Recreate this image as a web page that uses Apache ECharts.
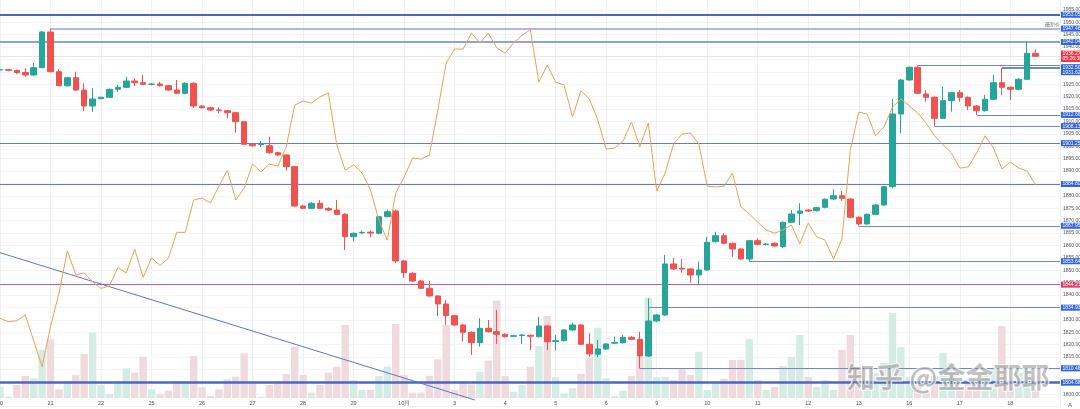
<!DOCTYPE html>
<html><head><meta charset="utf-8">
<script src="https://cdn.jsdelivr.net/npm/echarts/dist/echarts.min.js"></script>
<style>html,body{margin:0;padding:0;background:#fff}#c{width:1080px;height:409px}</style>
</head><body><div id="c"></div>
<script>
// ---- data ----
const days = ['20','21','22','25','26','27','28','29','10月','3','4','5','6','9','10','11','12','13','16','17','18'];
const barsPerDay = 6;
// [open, close, low, high]
const ohlc = [
[1930.77,1930.90,1930.20,1931.50],[1930.90,1930.60,1930.20,1931.20],[1930.56,1929.76,1929.15,1930.97],[1929.76,1928.75,1928.07,1931.45],[1928.75,1931.69,1928.35,1933.60],
[1931.69,1946.09,1931.57,1946.50],[1946.09,1930.08,1929.76,1947.465],[1930.08,1924.43,1924.30,1931.05],[1924.43,1927.66,1924.00,1928.00],[1927.66,1922.70,1922.30,1930.08],
[1922.70,1916.25,1914.20,1925.40],[1916.25,1919.07,1913.95,1923.40],[1919.20,1919.76,1919.00,1920.00],[1919.76,1922.98,1919.50,1923.30],[1922.98,1923.79,1922.00,1924.72],
[1923.79,1926.33,1923.50,1928.07],[1926.33,1925.65,1924.30,1927.42],[1925.65,1925.00,1924.72,1928.75],[1925.00,1925.10,1924.60,1925.50],[1925.10,1924.43,1924.03,1926.05],
[1924.43,1922.70,1922.40,1924.80],[1922.70,1921.37,1921.00,1926.73],[1921.37,1925.40,1921.00,1925.80],[1925.40,1916.25,1915.32,1925.80],[1916.25,1915.56,1915.20,1916.60],
[1915.56,1914.64,1914.20,1915.90],[1914.64,1914.40,1913.30,1915.73],[1914.36,1913.55,1911.30,1914.70],[1913.55,1909.92,1905.49,1913.90],[1909.92,1900.81,1900.50,1910.30],
[1900.81,1900.24,1899.90,1901.20],[1900.70,1900.90,1899.70,1902.14],[1900.24,1897.42,1897.00,1903.87],[1897.42,1896.49,1896.10,1897.80],[1896.49,1891.78,1890.16,1896.90],
[1891.78,1875.93,1875.53,1892.20],[1875.93,1875.00,1874.60,1876.40],[1875.00,1877.02,1874.70,1877.50],[1877.02,1875.00,1874.70,1878.35],[1875.00,1874.30,1873.90,1875.40],
[1874.30,1872.58,1872.20,1878.35],[1872.58,1863.55,1858.19,1873.00],[1863.55,1864.92,1861.80,1865.30],[1865.10,1865.30,1864.60,1866.00],[1865.40,1865.00,1863.30,1866.00],
[1864.92,1871.62,1864.50,1872.00],[1871.62,1873.63,1871.30,1874.40],[1873.92,1853.75,1852.83,1874.50],[1853.75,1849.04,1846.90,1854.20],[1848.80,1845.69,1845.30,1849.20],
[1845.69,1842.75,1842.40,1846.10],[1842.75,1839.64,1839.30,1845.80],[1839.64,1836.42,1831.58,1840.00],[1836.42,1831.70,1827.95,1838.00],[1831.70,1827.95,1827.60,1832.10],
[1827.95,1825.00,1821.22,1828.30],[1825.00,1820.81,1815.85,1825.40],[1820.81,1826.62,1819.20,1830.65],[1826.62,1825.25,1824.90,1829.97],[1825.25,1824.20,1820.30,1834.00],
[1824.20,1823.24,1822.90,1824.60],[1823.40,1823.60,1823.00,1824.00],[1823.70,1823.90,1820.30,1824.30],[1823.80,1823.40,1817.87,1824.00],[1823.24,1827.55,1822.90,1831.17],
[1827.55,1821.22,1817.87,1827.90],[1821.30,1821.60,1817.58,1823.90],[1821.62,1825.93,1821.20,1826.30],[1825.93,1827.95,1825.60,1828.87],[1827.95,1820.17,1819.80,1828.30],
[1820.17,1816.26,1815.17,1824.60],[1816.14,1818.27,1814.92,1821.90],[1818.27,1820.29,1817.90,1820.70],[1820.60,1820.90,1820.40,1823.24],[1820.81,1822.99,1820.40,1823.90],
[1822.99,1822.18,1821.80,1823.40],[1822.18,1815.45,1810.465,1825.25],[1815.45,1829.56,1815.00,1838.72],[1829.56,1831.98,1829.20,1832.40],[1831.98,1852.55,1831.60,1856.17],
[1852.55,1850.53,1850.10,1854.97],[1850.80,1850.50,1849.04,1854.44],[1850.53,1848.11,1845.00,1850.90],[1848.11,1850.13,1844.48,1853.47],[1850.13,1861.30,1849.80,1863.55],
[1861.54,1863.96,1861.20,1865.57],[1863.96,1860.89,1860.50,1864.92],[1860.89,1858.59,1855.49,1861.20],[1858.59,1854.56,1854.20,1858.90],[1854.56,1861.94,1853.645,1862.30],
[1861.94,1860.49,1860.10,1862.91],[1860.40,1860.60,1860.00,1861.00],[1860.89,1859.80,1859.40,1861.20],[1859.52,1869.36,1858.87,1869.70],[1869.36,1872.70,1869.00,1874.32],
[1872.99,1873.91,1868.27,1877.02],[1874.32,1873.91,1873.50,1874.70],[1874.04,1875.25,1873.70,1875.60],[1875.41,1878.63,1875.00,1879.00],[1878.75,1880.08,1878.40,1882.66],
[1880.08,1879.03,1878.00,1882.00],[1878.75,1871.37,1871.00,1879.10],[1871.37,1868.67,1867.955,1871.70],[1868.67,1872.58,1868.30,1872.90],[1872.58,1876.33,1872.20,1876.70],
[1876.33,1883.71,1876.00,1884.00],[1883.71,1913.03,1883.07,1919.07],[1913.03,1926.73,1905.37,1927.10],[1926.73,1931.85,1926.40,1932.20],[1931.85,1921.37,1921.00,1932.505],
[1921.09,1919.76,1917.98,1922.70],[1919.76,1911.29,1908.135,1920.10],[1911.29,1918.39,1911.00,1924.03],[1918.39,1921.61,1913.95,1922.00],[1921.61,1919.76,1917.98,1922.70],
[1919.76,1916.25,1914.64,1920.10],[1916.25,1914.36,1912.66,1916.60],[1914.36,1918.95,1914.00,1920.70],[1918.95,1925.65,1918.60,1928.75],[1925.65,1923.79,1920.69,1931.625],
[1923.79,1922.98,1918.67,1924.10],[1922.98,1927.02,1922.60,1927.40],[1927.02,1937.50,1926.70,1942.18],[1937.50,1936.275,1936.00,1939.10]
];
const volume = [11.3,1.3,13,22,19.7,48,58.7,8.7,17,23,44,65.3,13,4,16.3,29.7,25.3,41.3,8.7,4,
7.3,16.3,16.3,42,10.7,2,8.7,18.7,21.3,44.7,15.3,1.3,13,16.3,24,51.3,23,5.3,13,25.3,
31.3,73,18,8,8,22,31.3,74,23,5.3,5.3,22,38.7,73,8,16.3,13.7,26.3,37.3,97.3,
22,6.3,13,31.3,52,82,20.7,4.7,9.7,24,40.7,70.3,19.7,2,7.3,22,41.3,100.3,20.7,21.3,
18,28.7,23,46.3,8,15,19,38,38,59,18,8,11,32,41,63,21,11,18,8,
48,63,28,18,25,35,85,51,21,13,8,22,45,35,10,18,18,25,30,72,18,25,30,8];
const indicator = [21.6,20.8,21.0,22.4,16.1,9.8,19.6,27.7,38.1,32.2,
32.7,30.5,28.9,29.5,34.0,32.7,38.5,31.6,36.4,34.5,
36.3,42.6,42.6,50.5,51.0,49.8,53.9,57.8,50.5,53.4,
59.3,57.4,59.3,58.8,63.5,73.7,74.7,74.2,75.7,76.7,
64.0,57.8,59.1,57.1,53.0,45.6,40.7,52.2,56.1,60.8,
60.5,61.5,72.5,84.0,87.4,87.4,91.3,88.9,91.3,87.7,
86.4,88.9,90.8,92.1,79.3,83.5,79.3,78.6,70.8,77.2,
75.2,70.1,63.0,63.2,64.9,69.6,63.5,69.3,52.7,57.1,
64.2,66.6,66.9,64.2,53.9,53.7,53.9,57.1,48.8,47.1,
45.1,43.2,42.4,43.2,44.4,39.8,44.9,41.5,40.7,36.1,
41.0,62.7,72.0,71.5,66.2,68.4,73.2,75.2,73.5,71.8,
69.3,66.2,64.0,62.0,58.3,58.6,62.0,66.2,63.2,58.1,
59.8,58.3,57.6,54.2];
const levelPrices   = [1953.05,1947.465,1942.045,1932.505,1931.625,1912.66,1908.135,1901.25,1884.805,1867.955,1853.645,1844.21,1834.935,1810.465,1804.685];
const levelStartBar = [null,6,null,109,119,116,111,null,null,102,89,null,77,76,null];
const lastPrice = 1936.275;
const countdown = '05:26:38';
const trendLine = [[0,1857.1],[56.4,1797.7]];
const tagText = '最新价';
const watermark = '知乎 @金金耶耶';
const scaleButton = 'A';

// ---- styles ----
const UP = '#26a69a', DOWN = '#ef5350';
const FONT = '"Liberation Sans", Arial, sans-serif';
const xMax = 125.9;
const levelLine = [
 {c:'#4a68b5',w:2},{c:'#8ea3dc',w:1.5},{c:'#8ea3dc',w:2},{c:'#6d88d8',w:1},{c:'#6d88d8',w:2},
 {c:'#6d88d8',w:1},{c:'#6d88d8',w:1},{c:'#5f7bcc',w:1},{c:'#5f7bcc',w:1},{c:'#6d88d8',w:1},
 {c:'#6d88d8',w:1},{c:'#b7638f',w:1},{c:'#6d88d8',w:1},{c:'#6d88d8',w:1},{c:'#4a68c0',w:2.5}];
const labelOffset = {3:[0,1.5],4:[0,4.3]};

function lbl(text, bg, off){
  return {show:true, position:'end', distance:1, formatter:text, color:'#fff', backgroundColor:bg,
    fontSize:5, lineHeight:5.5, padding:[0.5,2,0,1.5], fontFamily:FONT, offset:off||[0,0]};
}
const marks = [];
levelPrices.forEach((p,i)=>{
  const ls = {color:levelLine[i].c, width:levelLine[i].w, type:'solid'};
  const bg = i===11 ? '#e33a6b' : '#2e63e6';
  const label = lbl(p.toFixed(3), bg, labelOffset[i]);
  if (levelStartBar[i]===null) marks.push({yAxis:p, lineStyle:ls, label});
  else marks.push([{coord:[levelStartBar[i],p], lineStyle:ls, label},{coord:[xMax,p]}]);
});
marks.push({yAxis:lastPrice, lineStyle:{color:'#e3e6ec',width:1,type:'solid'},
  label:Object.assign(lbl(lastPrice.toFixed(3)+'\n'+countdown,'#f23645'),{lineHeight:5.2,padding:[0.5,2,0.5,1.5]})});
marks.push([{coord:trendLine[0], lineStyle:{color:'#5a74d4',width:1,type:'solid'}, label:{show:false}},{coord:trendLine[1]}]);

const candleData = ohlc.map((d,i)=>[i,d[0],d[1],d[2],d[3]]);
const volData = volume.map((v,i)=>({value:[i,v], itemStyle:{color: ohlc[i][1]>=ohlc[i][0] ? '#d5ece5' : '#efdadd'}}));
const indData = indicator.map((v,i)=>[i,v]);

const chart = echarts.init(document.getElementById('c'), null, {renderer:'canvas'});
chart.setOption({
  animation:false,
  backgroundColor:'#ffffff',
  grid:[
    {left:0, right:20, top:-2.5, bottom:2.3, containLabel:false, outerBoundsMode:'none'},
    {left:0, right:20, top:278, bottom:11, containLabel:false, outerBoundsMode:'none'}
  ],
  xAxis:[
    {type:'value', gridIndex:0, min:0, max:xMax, interval:barsPerDay,
     axisLine:{show:false}, axisTick:{show:false}, axisLabel:{show:false},
     splitLine:{show:true, lineStyle:{color:'#eef1f6', width:1}}},
    {type:'value', gridIndex:1, min:0, max:xMax, interval:barsPerDay,
     axisLine:{show:false}, axisTick:{show:false}, splitLine:{show:false},
     axisLabel:{show:true, margin:2, fontSize:5.5, color:'#555', fontFamily:FONT, hideOverlap:false,
       showMinLabel:true, showMaxLabel:false,
       formatter:v=>{const k=Math.round(v); return (Math.abs(v-k)<1e-6 && k%barsPerDay===0 && days[k/barsPerDay]) ? days[k/barsPerDay] : '';}}}
  ],
  yAxis:[
    {type:'value', gridIndex:0, position:'right', min:1795, max:1960, interval:5, scale:true,
     axisLine:{show:false}, axisTick:{show:false},
     splitLine:{show:true, lineStyle:{color:'#f2f4f8', width:1}},
     axisLabel:{show:true, margin:3, fontSize:5, color:'#555', fontFamily:FONT, hideOverlap:false,
       formatter:v=> (v<=1795||v>=1960) ? '' : v.toFixed(3)}},
    {type:'value', gridIndex:0, min:0, max:100, show:false},
    {type:'value', gridIndex:1, min:0, max:120, show:false}
  ],
  series:[
    {type:'bar', xAxisIndex:1, yAxisIndex:2, data:volData, barWidth:7.4, z:1, silent:true},
    {type:'candlestick', xAxisIndex:0, yAxisIndex:0, data:candleData, barWidth:6, z:3,
     encode:{x:0, y:[1,2,3,4]},
     itemStyle:{color:UP, color0:DOWN, borderColor:UP, borderColor0:DOWN, borderWidth:1},
     markLine:{silent:true, symbol:['none','none'], animation:false, precision:3, data:marks, z:2}},
    {type:'line', xAxisIndex:0, yAxisIndex:1, data:indData, showSymbol:false, symbol:'none', z:4,
     lineStyle:{color:'#f0a04b', width:1}, silent:true}
  ],
  graphic:[
    {type:'text', left:1045, top:21.5, z:10, style:{text:tagText, fontSize:5, fill:'#777', fontFamily:'"Noto Sans CJK SC", sans-serif'}},
    {type:'text', left:846, top:362, z:20, silent:true,
     style:{text:watermark, font:'bold 28px "Noto Sans CJK SC", sans-serif', fill:'rgba(120,120,120,0.45)', stroke:'rgba(255,255,255,0.8)', lineWidth:2}},
    {type:'text', right:8, bottom:1, z:10, style:{text:scaleButton, fontSize:6, fill:'#666', fontFamily:FONT}}
  ]
});
</script>
</body></html>
